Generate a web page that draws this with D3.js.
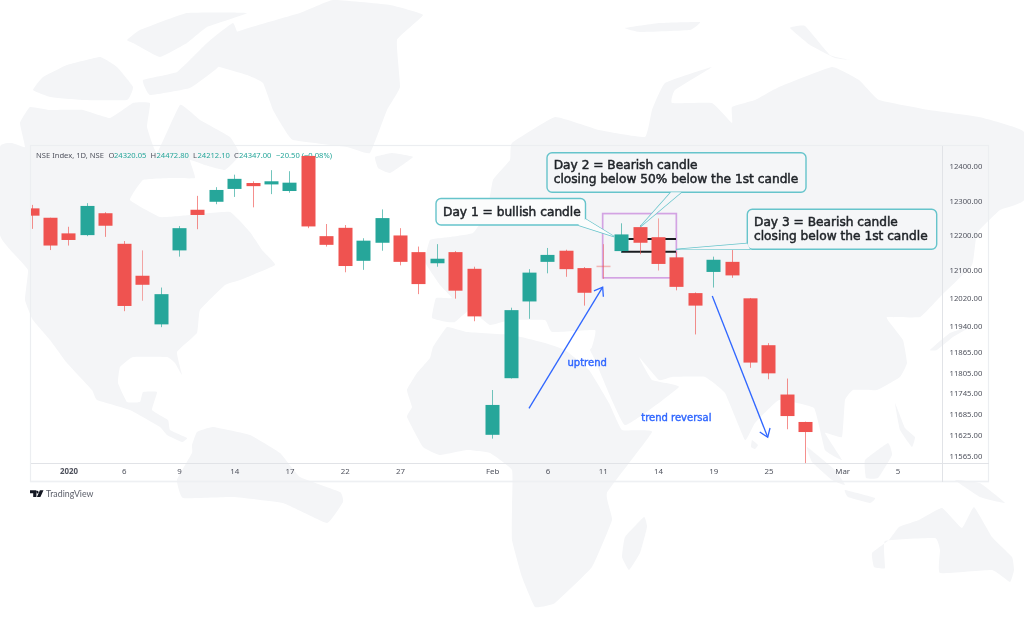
<!DOCTYPE html>
<html>
<head>
<meta charset="utf-8">
<script src="https://cdn.jsdelivr.net/npm/d3@7/dist/d3.min.js"></script>
<style>
html,body{margin:0;padding:0;background:#fff;overflow:hidden}
svg{display:block;filter:blur(0.35px)}
</style>
</head>
<body>
<svg id="c" width="1024" height="640"></svg>
<script>
// ---- chart data ----
const opens  = [12278,12251,12206,12201,12264,12176,12084,11944,12157,12274,12297,12334,12351,12347,12328,12429,12198,12222,12127,12179,12200,12152,12120,12152,12104,11626,11789,12010,12124,12156,12106,12113,12155,12224,12195,12137,12034,12095,12124,12019,11884,11742,11663];
const highs  = [12288,12251,12225,12293,12267,12184,12157,12050,12227,12314,12339,12375,12356,12388,12385,12430,12233,12230,12192,12275,12221,12168,12175,12155,12110,11755,11992,12103,12164,12159,12109,12175,12235,12230,12249,12153,12036,12139,12158,12020,11890,11788,11664];
const lows   = [12219,12158,12171,12198,12196,11982,12012,11936,12139,12218,12290,12311,12281,12319,12323,12221,12168,12094,12101,12156,12114,12031,12110,12018,11953,11615,11788,11960,12091,12081,11998,12075,12150,12146,12099,12042,11915,12050,12078,11819,11786,11642,11544];
const closes = [12257,12171,12187,12285,12228,11997,12058,12031,12221,12259,12331,12363,12342,12356,12352,12226,12173,12112,12185,12250,12124,12060,12133,12041,11967,11712,11985,12093,12144,12103,12035,12111,12203,12179,12118,12052,11998,12130,12085,11834,11803,11680,11634];
const timeTickIndex = [2,5,8,11,14,17,20,25,28,31,34,37,40,44,47];
const timeTickLabel = ["2020","6","9","14","17","22","27","Feb","6","11","14","19","25","Mar","5"];
const priceTicks = [12400,12300,12200,12100,12020,11940,11865,11805,11745,11685,11625,11565];
const headerParts = [
  ["NSE Index, 1D, NSE",36,"#50535e"],["O",108.5,"#50535e"],["24320.05",114,"#26a69a"],
  ["H",150.5,"#50535e"],["24472.80",156.5,"#26a69a"],["L",193,"#50535e"],["24212.10",197.5,"#26a69a"],
  ["C",234,"#50535e"],["24347.00",239,"#26a69a"],["\u221220.50 (\u22120.08%)",276,"#26a69a"]
];
// annotations, in bar index / price coordinates
const patternBox = {i0:31,i1:35,top:12263,bottom:12078};
const levels = [{price:12190,i0:32.39,i1:34.98},{price:12153,i0:32,i1:34.98}];
const trendArrows = [{i0:27,p0:11702,i1:31,p1:12051},{i0:36.95,p0:12026,i1:39.96,p1:11619}];
const trendLabels = [{t:"uptrend",i:30.16,p:11834},{t:"trend reversal",i:35.0,p:11674}];

// ---- decorative world map silhouettes (page units) ----
const land = [
 // North America
 [[0,147],[12,143],[25,147],[20,123],[30,107],[50,110],[83,110],[110,118],[133,103],[150,103],[147,127],[157,153],[180,105],[200,120],[230,137],[240,155],[225,170],[205,165],[190,160],[195,178],[170,178],[143,180],[130,200],[160,217],[190,215],[230,212],[250,232],[262,250],[275,265],[240,280],[225,285],[200,310],[197,333],[177,352],[182,375],[175,363],[167,357],[133,357],[120,367],[118,383],[127,402],[140,402],[143,392],[157,392],[152,410],[168,420],[170,430],[187,438],[182,442],[167,435],[160,427],[130,410],[97,400],[92,390],[67,363],[50,340],[33,320],[25,300],[28,270],[15,255],[0,235]],
 // Arctic islands
 [[33,90],[43,77],[67,65],[100,57],[117,67],[133,87],[127,100],[83,100],[50,97]],
 [[127,40],[140,30],[187,13],[247,13],[207,27],[187,43],[160,57],[133,43]],
 [[143,80],[177,72],[207,43],[233,23],[240,45],[215,70],[190,88],[150,95]],
 // Greenland
 [[207,58],[233,33],[300,13],[333,0],[390,5],[423,15],[397,40],[400,87],[387,110],[370,153],[347,147],[293,140],[283,127],[273,110],[263,83],[247,75],[207,63]],
 // Iceland
 [[375,157],[392,153],[413,157],[390,173],[378,168]],
 // Eurasia
 [[447,322],[432,318],[436,298],[452,298],[440,285],[425,262],[430,240],[450,237],[473,233],[487,213],[493,180],[510,160],[512,143],[555,117],[599,130],[645,137],[652,110],[665,83],[712,67],[675,90],[672,103],[712,103],[732,123],[732,107],[755,100],[779,87],[832,67],[859,80],[879,100],[929,110],[979,117],[1024,132],[1024,200],[1000,210],[977,233],[972,265],[940,297],[920,317],[887,317],[890,323],[903,340],[907,363],[900,377],[877,390],[853,390],[845,400],[842,437],[825,433],[842,460],[825,450],[814,408],[779,400],[755,423],[745,440],[725,393],[705,377],[672,377],[659,380],[639,357],[652,380],[679,387],[625,425],[595,360],[590,350],[592,347],[595,330],[552,332],[545,320],[510,320],[490,325],[470,310],[455,322]],
 // Africa
 [[447,327],[433,347],[430,358],[417,373],[407,390],[412,407],[407,417],[423,447],[440,455],[467,450],[490,453],[512,470],[512,507],[512,540],[522,577],[535,607],[555,603],[592,567],[612,520],[607,493],[652,432],[622,430],[609,403],[589,370],[565,350],[545,343],[512,335],[467,332]],
 // Madagascar
 [[644,517],[647,527],[640,553],[629,570],[622,557],[625,537]],
 // South America
 [[192,445],[192,453],[177,480],[183,498],[233,497],[283,503],[327,523],[343,502],[340,492],[300,477],[280,453],[250,435],[213,427],[197,432]],
 // Australia
 [[872,553],[889,540],[899,527],[919,520],[942,508],[962,528],[974,507],[992,537],[1012,557],[1014,570],[1010,582],[992,570],[940,573],[940,550],[935,538],[885,541],[885,568],[874,567]],
 // Indonesia, Philippines, Japan, New Guinea, Sri Lanka, northern slivers
 [[807,447],[835,470],[845,485],[832,480],[812,462]],
 [[865,460],[888,443],[892,455],[878,478],[866,478]],
 [[845,490],[875,498],[870,503],[848,497]],
 [[955,480],[980,483],[1005,503],[980,497]],
 [[895,403],[905,428],[915,437],[912,447],[900,430]],
 [[930,350],[950,333],[970,327],[953,337],[937,350]],
 [[752,440],[758,445],[755,449],[751,447]],
 [[625,28],[660,23],[700,22],[690,30],[640,32]],
 [[790,28],[805,26],[830,55],[850,60],[835,58],[810,45]]
];

// ---- scales ----
const plot = {left:31,right:943,top:146,bottom:463.3};
const x = d3.scaleLinear().domain([0,42]).range([31.6,805.3]);
const y = d3.scaleLinear().domain([11565,12400]).range([456,166]);
const UP="#26a69a", DOWN="#ef5350", BLUE="#2f66ff", TEAL="#66c4cb";

const svg = d3.select("#c");
svg.append("rect").attr("width",1024).attr("height",640).attr("fill","#fff");

// map
const mapLine = d3.line().curve(d3.curveCardinalClosed.tension(0.7));
svg.append("g").selectAll("path").data(land).join("path")
  .attr("d",d=>mapLine(d)).attr("fill","#f4f5f7");

// frame
svg.append("rect").attr("x",30.5).attr("y",145.5).attr("width",958).attr("height",336)
  .attr("fill","none").attr("stroke","#eceef1").attr("stroke-width",1.2);
svg.append("line").attr("x1",30).attr("x2",989).attr("y1",481.5).attr("y2",481.5).attr("stroke","#eef0f3").attr("stroke-width",1.5);
svg.append("line").attr("x1",31).attr("x2",989).attr("y1",463.5).attr("y2",463.5).attr("stroke","#e1e3e7");
svg.append("line").attr("x1",942.5).attr("x2",942.5).attr("y1",146).attr("y2",482).attr("stroke","#e1e3e7");

svg.append("defs").append("clipPath").attr("id","pane").append("rect")
  .attr("x",plot.left).attr("y",plot.top).attr("width",plot.right-plot.left).attr("height",plot.bottom-plot.top);

// header
svg.append("g").selectAll("text").data(headerParts).join("text")
  .attr("x",d=>d[1]).attr("y",158).attr("fill",d=>d[2])
  .attr("font-family","Noto Sans").attr("font-size",7.6).text(d=>d[0]);

// pattern box and level lines sit behind the candles
svg.append("rect").attr("x",x(patternBox.i0)).attr("y",y(patternBox.top))
  .attr("width",x(patternBox.i1)-x(patternBox.i0)).attr("height",y(patternBox.bottom)-y(patternBox.top))
  .attr("fill","none").attr("stroke","#d3a3e3").attr("stroke-width",1.7);
svg.append("g").selectAll("line").data(levels).join("line")
  .attr("x1",d=>x(d.i0)).attr("x2",d=>x(d.i1)).attr("y1",d=>y(d.price)).attr("y2",d=>y(d.price))
  .attr("stroke","#1a1c20").attr("stroke-width",1.9);

// candles
const idx = d3.range(opens.length);
const colour = i => closes[i]>=opens[i]?UP:DOWN;
const paleWick = new Set([6,31,34]);
const candles = svg.append("g").attr("clip-path","url(#pane)");
candles.selectAll("line").data(idx).join("line")
  .attr("x1",i=>Math.round(x(i))+.5).attr("x2",i=>Math.round(x(i))+.5)
  .attr("y1",i=>y(highs[i])).attr("y2",i=>y(lows[i]))
  .attr("stroke",colour).attr("stroke-width",1).attr("stroke-opacity",i=>paleWick.has(i)?.5:.65);
candles.selectAll("rect").data(idx).join("rect")
  .attr("x",i=>Math.round(x(i))-6.5).attr("width",14)
  .attr("y",i=>y(Math.max(opens[i],closes[i])))
  .attr("height",i=>Math.max(1.5,Math.abs(y(opens[i])-y(closes[i]))))
  .attr("fill",colour)
  .attr("fill-opacity",i=>i===31?.4:1);

// axes
const yAxis = d3.axisRight(y).tickValues(priceTicks).tickSize(0).tickPadding(6).tickFormat(d=>d.toFixed(2));
const ya = svg.append("g").attr("transform","translate(943.5,0)").call(yAxis);
ya.select(".domain").remove();
ya.selectAll("text").attr("font-family","Noto Sans").attr("font-size",7.7).attr("fill","#50535e");

const xAxis = d3.axisBottom(x).tickValues(timeTickIndex).tickSize(0).tickPadding(5)
  .tickFormat(d=>timeTickLabel[timeTickIndex.indexOf(d)]);
const xa = svg.append("g").attr("transform","translate(0,463.5)").call(xAxis);
xa.select(".domain").remove();
xa.selectAll("text").attr("font-family","Noto Sans").attr("font-size",7.9).attr("fill","#50535e")
  .attr("font-weight",d=>d===2?700:400);

// trend arrows
const arrows = svg.append("g").attr("fill","none").attr("stroke",BLUE).attr("stroke-width",1.3);
trendArrows.forEach(a=>{
  const X0=x(a.i0),Y0=y(a.p0),X1=x(a.i1),Y1=y(a.p1),ang=Math.atan2(Y1-Y0,X1-X0),L=9.5,S=0.62;
  arrows.append("path").attr("d",d3.line()([[X0,Y0],[X1,Y1]]));
  arrows.append("path").attr("d",d3.line()([
    [X1-L*Math.cos(ang-S),Y1-L*Math.sin(ang-S)],[X1,Y1],[X1-L*Math.cos(ang+S),Y1-L*Math.sin(ang+S)]]));
});
svg.append("g").selectAll("text").data(trendLabels).join("text")
  .attr("x",d=>x(d.i)).attr("y",d=>y(d.p)).attr("text-anchor","middle").attr("dominant-baseline","middle")
  .attr("fill",BLUE).attr("font-family","DejaVu Sans").attr("font-size",10).attr("stroke",BLUE).attr("stroke-width",.4).text(d=>d.t);

// callouts
const callouts = [
  {box:[436,198.5,149.5,26.5],tail:[[585.5,219],[614,236.5],[578,225]],lines:["Day 1 = bullish candle"],tx:443,ty:[215.5],fill:"#fbfcfc"},
  {box:[547,152.7,259,39.6],tail:[[681.3,192.3],[640.3,226.7],[671,192.3]],lines:["Day 2 = Bearish candle","closing below 50% below the 1st candle"],tx:553.7,ty:[169,182.5],fill:"#f5f6f8"},
  {box:[747.3,209.3,189.4,40],tail:[[747.3,243.5],[676,249.4],[750,249.3]],lines:["Day 3 = Bearish candle","closing below the 1st candle"],tx:754,ty:[226,239.5],fill:"#f5f6f8"}
];
const cg = svg.append("g");
callouts.forEach(c=>{
  const [bx,by,bw,bh]=c.box;
  cg.append("path").attr("d",d3.line()(c.tail)).attr("fill",c.fill).attr("stroke",TEAL).attr("stroke-width",1.4);
  cg.append("rect").attr("x",bx).attr("y",by).attr("width",bw).attr("height",bh).attr("rx",5)
    .attr("fill",c.fill).attr("stroke",TEAL).attr("stroke-width",1.4);
  // open the box edge where the tail joins
  cg.append("path").attr("d",d3.line()(c.tail)).attr("fill",c.fill).attr("stroke","none");
  c.lines.forEach((t,i)=>cg.append("text").attr("x",c.tx).attr("y",c.ty[i])
    .attr("font-family","DejaVu Sans").attr("font-size",12.2).attr("fill","#1f2328")
    .attr("stroke","#1f2328").attr("stroke-width",.5).text(t));
});

// logo and brand
svg.append("path").attr("fill","#131722")
  .attr("d","M30 490.3h6.4v6.7h-3.2v-3.7h-3.2zM37.3 490.8a1.3 1.3 0 1 0 .01 0zM39.9 490.3h3.6l-3.1 6.7h-3.5z");
svg.append("text").attr("x",46).attr("y",497).attr("font-family","Lato").attr("font-size",8.8).attr("fill","#5d606b").text("TradingView");
</script>
</body>
</html>
